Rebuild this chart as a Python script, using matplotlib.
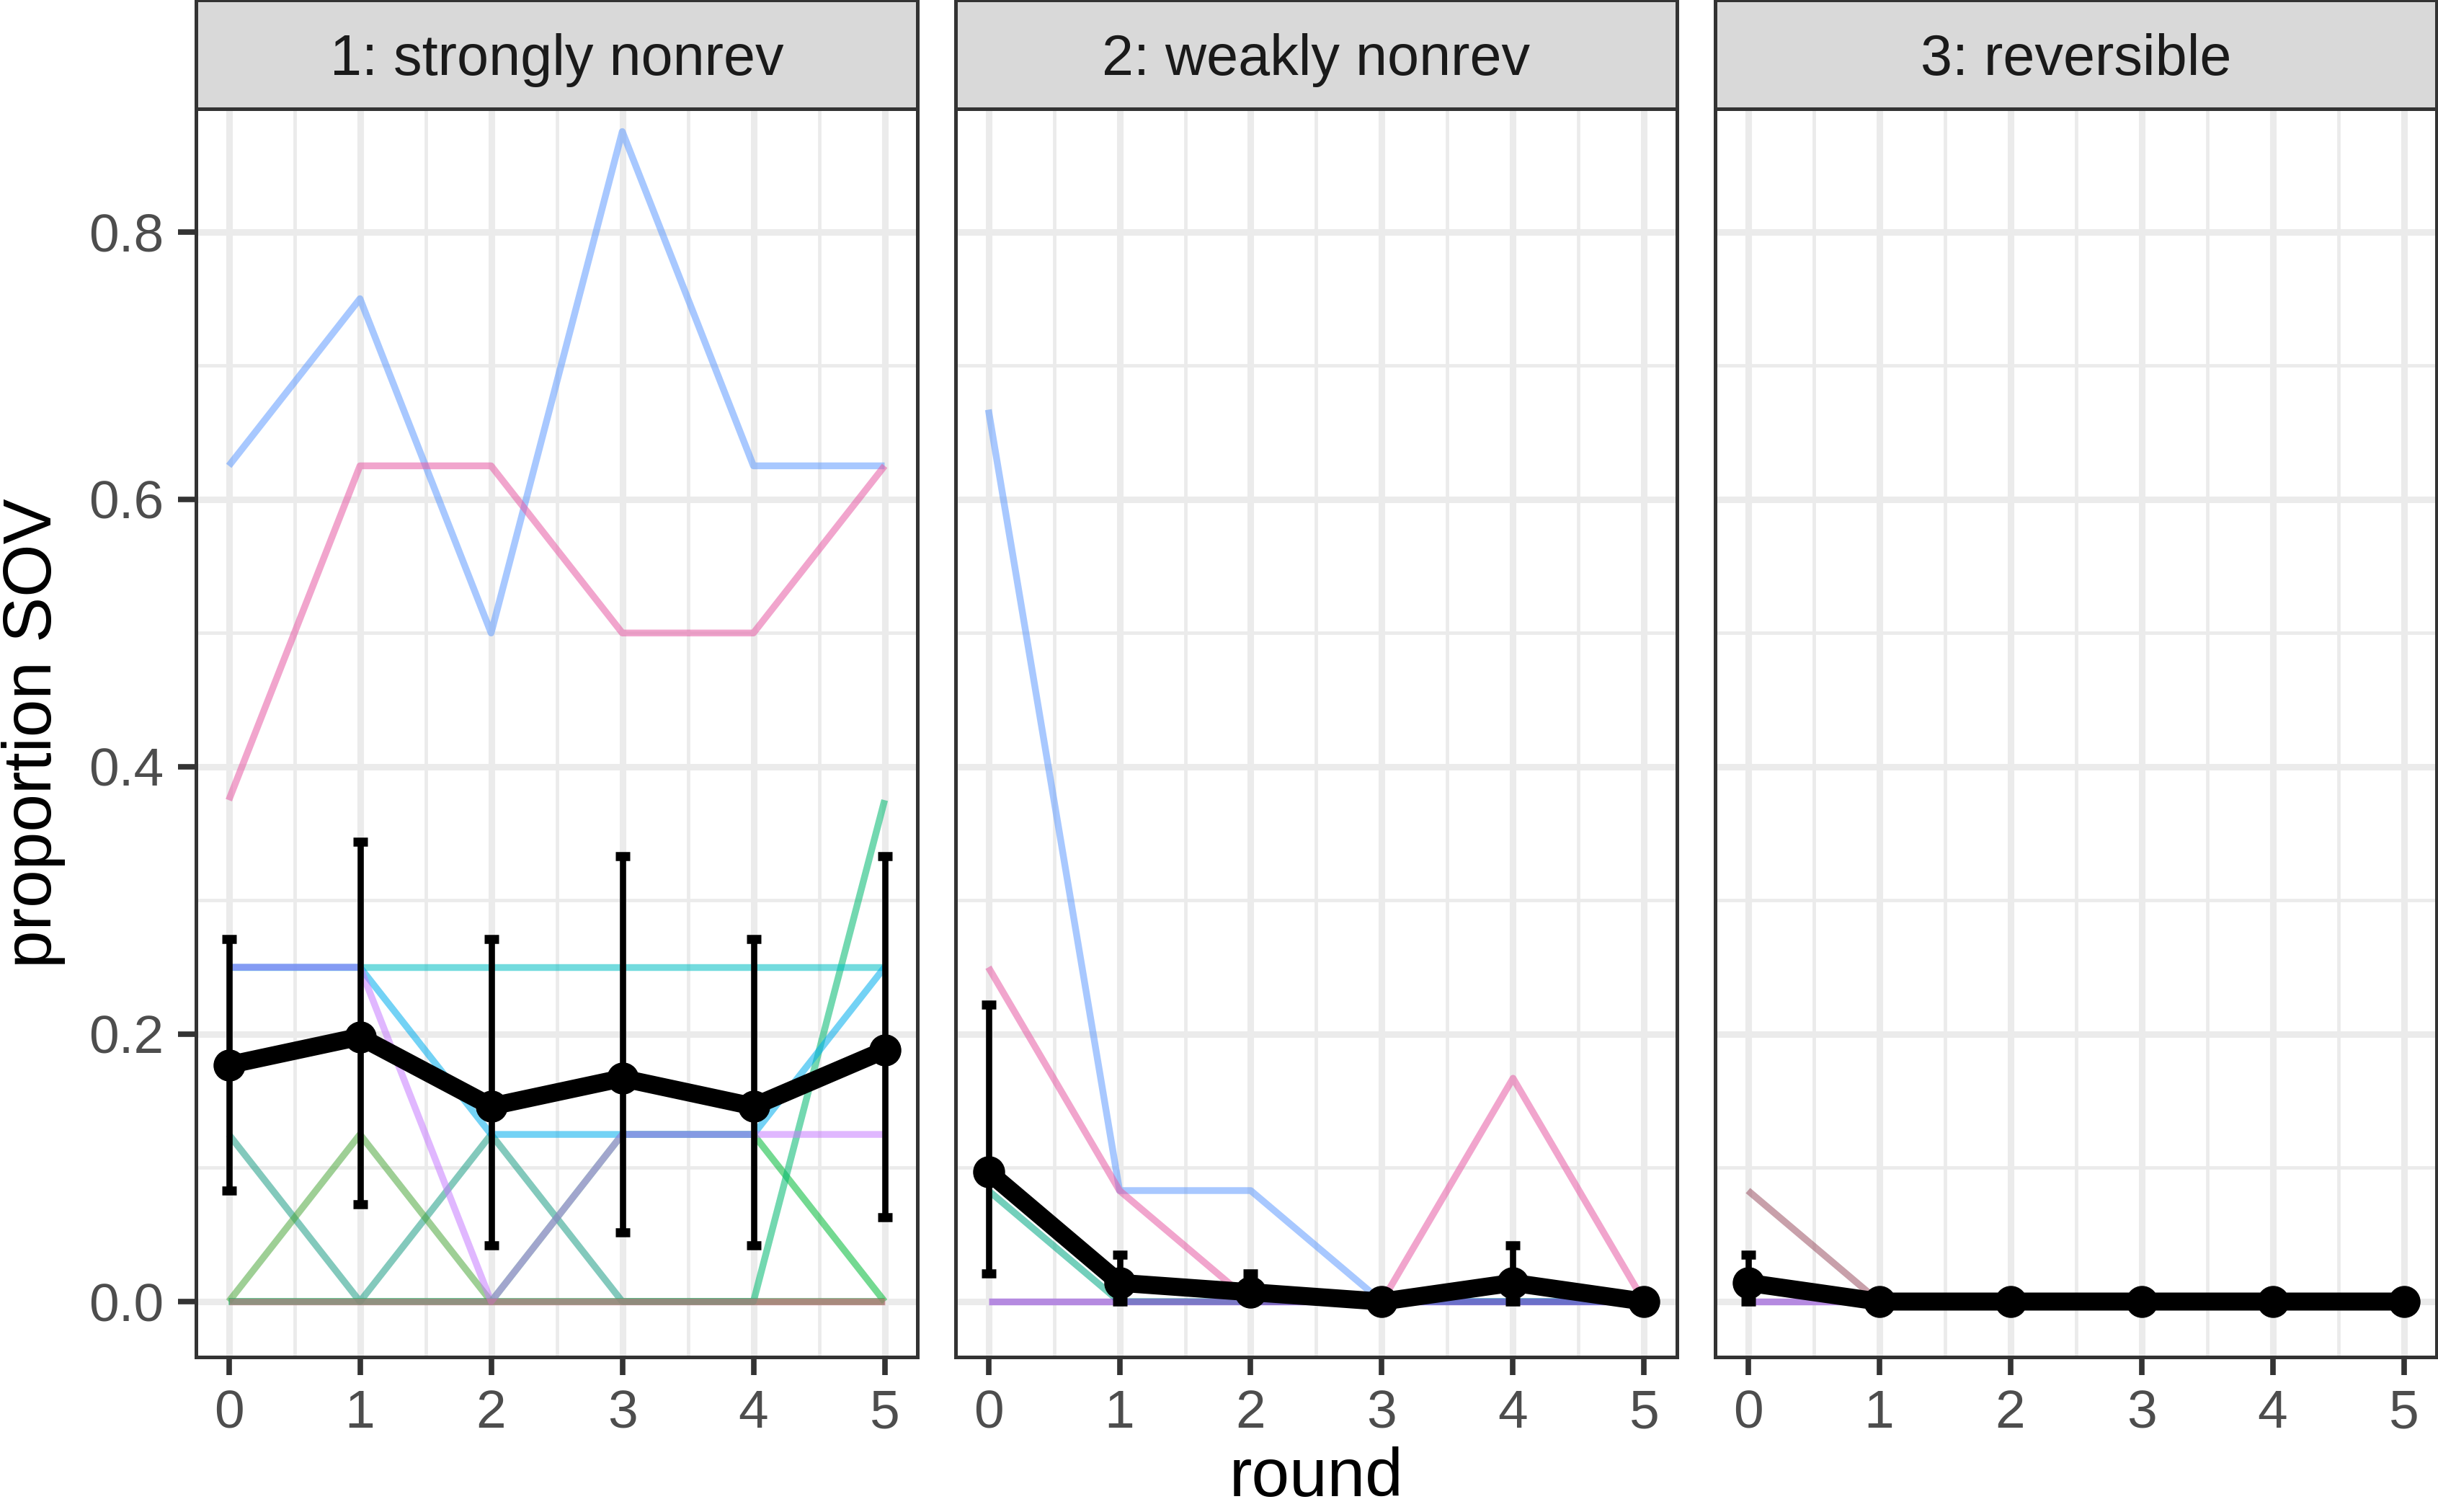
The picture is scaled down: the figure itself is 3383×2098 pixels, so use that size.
import matplotlib
matplotlib.use("Agg")
import matplotlib.pyplot as plt
from matplotlib.ticker import MultipleLocator, FixedLocator

plt.rcParams['font.family'] = ['Liberation Sans', 'DejaVu Sans']

# ---------------- data ----------------
rounds = [0, 1, 2, 3, 4, 5]
panel_titles = ["1: strongly nonrev", "2: weakly nonrev", "3: reversible"]
y_ticks = [0.0, 0.2, 0.4, 0.6, 0.8]
y_tick_labels = ["0.0", "0.2", "0.4", "0.6", "0.8"]

# individual groups, panel 1 (drawn in this order)
p1_lines = [
    [0.125, 0.0, 0.125, 0.0, 0.0, 0.0],
    [0.0, 0.125, 0.0, 0.0, 0.0, 0.0],
    [0.0, 0.0, 0.0, 0.125, 0.125, 0.0],
    [0.0, 0.0, 0.0, 0.0, 0.0, 0.375],
    [0.625, 0.75, 0.5, 0.875, 0.625, 0.625],
    [0.375, 0.625, 0.625, 0.5, 0.5, 0.625],
    [0.25, 0.25, 0.25, 0.25, 0.25, 0.25],
    [0.25, 0.25, 0.125, 0.125, 0.125, 0.25],
    [0.25, 0.25, 0.0, 0.125, 0.125, 0.125],
    [0.0, 0.0, 0.0, 0.0, 0.0, 0.0],
]
p1_colors = ["#1E9E86", "#4FA83F", "#00BA38", "#00B86F", "#619CFF", "#E75BA4",
             "#00BFC4", "#00ADED", "#C77CFF", "#E36A86"]

# panel 2
p2_lines = [
    [0.667, 0.083, 0.083, 0.0, 0.0, 0.0],
    [0.25, 0.083, 0.0, 0.0, 0.167, 0.0],
    [0.083, 0.0, 0.0, 0.0, 0.0, 0.0],
    [0.0, 0.0, 0.0, 0.0, 0.0, 0.0],
]
p2_colors = ["#619CFF", "#E75BA4", "#00A884", "#8A3AD8"]

# panel 3
p3_lines = [
    [0.083, 0.0, 0.0, 0.0, 0.0, 0.0],
    [0.0, 0.0, 0.0, 0.0, 0.0, 0.0],
]
p3_colors = ["#9B5264", "#8A3AD8"]

# means with intervals
p1_mean = [0.177, 0.198, 0.146, 0.167, 0.146, 0.188]
p1_lo = [0.083, 0.073, 0.042, 0.052, 0.042, 0.063]
p1_hi = [0.271, 0.344, 0.271, 0.333, 0.271, 0.333]
p2_mean = [0.097, 0.014, 0.007, 0.0, 0.014, 0.0]
p2_lo = [0.021, 0.0, 0.0, 0.0, 0.0, 0.0]
p2_hi = [0.222, 0.035, 0.021, 0.0, 0.042, 0.0]
p3_mean = [0.014, 0.0, 0.0, 0.0, 0.0, 0.0]
p3_lo = [0.0, 0.0, 0.0, 0.0, 0.0, 0.0]
p3_hi = [0.035, 0.0, 0.0, 0.0, 0.0, 0.0]

panels = [
    (p1_lines, p1_colors, p1_mean, p1_lo, p1_hi),
    (p2_lines, p2_colors, p2_mean, p2_lo, p2_hi),
    (p3_lines, p3_colors, p3_mean, p3_lo, p3_hi),
]

# ---------------- layout ----------------
W, H = 3383, 2098
fig = plt.figure(figsize=(W / 100, H / 100), dpi=100)
fig.patch.set_facecolor("white")

panel_left = [272, 1326, 2380]
panel_w = 1001
top_px, bot_px = 151, 1883
border_c = "#333333"
border_lw = 3.6

for i, (lines, colors, mean, lo, hi) in enumerate(panels):
    l = panel_left[i]
    ax = fig.add_axes([l / W, 1 - bot_px / H, panel_w / W, (bot_px - top_px) / H])
    ax.set_xlim(-0.25, 5.25)
    ax.set_ylim(-0.0415, 0.892)
    ax.set_facecolor("white")

    ax.xaxis.set_major_locator(FixedLocator(rounds))
    ax.xaxis.set_minor_locator(MultipleLocator(0.5))
    ax.yaxis.set_major_locator(FixedLocator(y_ticks))
    ax.yaxis.set_minor_locator(FixedLocator([0.1, 0.3, 0.5, 0.7]))
    ax.grid(which="major", color="#EBEBEB", linewidth=6.5)
    ax.grid(which="minor", color="#EBEBEB", linewidth=3.4)
    ax.set_axisbelow(True)

    for s in ax.spines.values():
        s.set_color(border_c)
        s.set_linewidth(border_lw)

    ax.tick_params(which="major", length=18, width=5.5, color=border_c,
                   labelsize=54, labelcolor="#4D4D4D", pad=14)
    ax.tick_params(which="minor", length=0, width=0)
    ax.set_xticklabels([str(r) for r in rounds])
    if i == 0:
        ax.set_yticklabels(y_tick_labels)
    else:
        ax.tick_params(axis="y", which="both", left=False, labelleft=False)

    for vals, c in zip(lines, colors):
        ax.plot(rounds, vals, color=c, alpha=0.55, linewidth=6.8,
                solid_capstyle="butt", zorder=2)

    yerr = [[m - a for m, a in zip(mean, lo)], [b - m for m, b in zip(mean, hi)]]
    ax.errorbar(rounds, mean, yerr=yerr, fmt="none", ecolor="black",
                elinewidth=6.2, capsize=7.5, capthick=9, zorder=3)
    ax.plot(rounds, mean, color="black", linewidth=18, zorder=4,
            solid_joinstyle="round")
    ax.plot(rounds, mean, "o", color="black", markersize=31, zorder=5)

    # strip
    sax = fig.add_axes([l / W, 1 - top_px / H, panel_w / W, top_px / H])
    sax.set_facecolor("#D9D9D9")
    sax.set_xticks([])
    sax.set_yticks([])
    for s in sax.spines.values():
        s.set_color(border_c)
        s.set_linewidth(border_lw)
    sax.text(0.5, 0.45, panel_titles[i], ha="center", va="center",
             fontsize=57, color="#1A1A1A", transform=sax.transAxes)

# axis titles
fig.text((272 + 3381) / 2 / W, 1 - 2076 / H, "round", ha="center",
         va="baseline", fontsize=68, color="black")
fig.text(47 / W, 1 - 1017 / H, "proportion SOV", ha="center", va="center",
         rotation=90, fontsize=68, color="black")

fig.savefig("out.png", dpi=100)
